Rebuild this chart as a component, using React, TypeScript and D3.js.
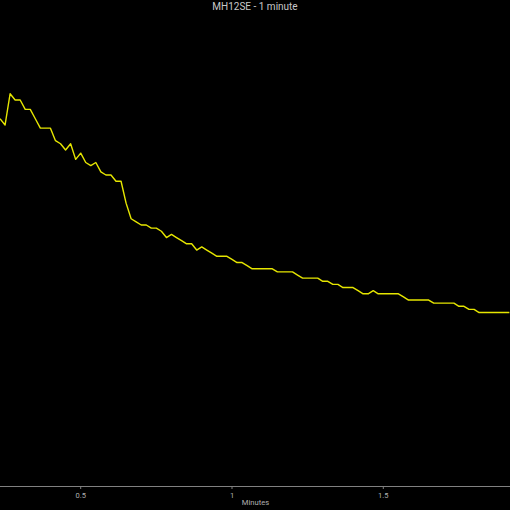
import React from "react";
import * as d3 from "d3";

const title = "MH12SE - 1 minute";
const xAxisLabel = "Minutes";
const xTicks = [0.5, 1, 1.5];
const sampleStartSec = 14;
const sampleIntervalSec = 1;
// readings (arbitrary units, 0.1 resolution)
const values = [
  26.2, 26.0, 27.0, 26.8, 26.8, 26.5, 26.5, 26.2, 25.9, 25.9,
  25.9, 25.5, 25.4, 25.2, 25.4, 24.9, 25.1, 24.8, 24.7, 24.8,
  24.5, 24.4, 24.4, 24.2, 24.2, 23.5, 23.0, 22.9, 22.8, 22.8,
  22.7, 22.7, 22.6, 22.4, 22.5, 22.4, 22.3, 22.2, 22.2, 22.0,
  22.1, 22.0, 21.9, 21.8, 21.8, 21.8, 21.7, 21.6, 21.6, 21.5,
  21.4, 21.4, 21.4, 21.4, 21.4, 21.3, 21.3, 21.3, 21.3, 21.2,
  21.1, 21.1, 21.1, 21.1, 21.0, 21.0, 20.9, 20.9, 20.8, 20.8,
  20.8, 20.7, 20.6, 20.6, 20.7, 20.6, 20.6, 20.6, 20.6, 20.6,
  20.5, 20.4, 20.4, 20.4, 20.4, 20.4, 20.3, 20.3, 20.3, 20.3,
  20.3, 20.2, 20.2, 20.1, 20.1, 20.0, 20.0, 20.0, 20.0, 20.0,
  20.0, 20.0,
];

const W = 510;
const H = 510;
const axisY = 486;

export default function App() {
  const x = d3.scaleLinear().domain([0.2333, 1.9187]).range([0, W]);
  const y = d3.scaleLinear().domain([14.45, 30]).range([axisY, 0]);
  const pts: [number, number][] = values.map((v, i) => [
    (sampleStartSec + i * sampleIntervalSec) / 60,
    v,
  ]);
  const line = d3
    .line<[number, number]>()
    .x((d) => x(d[0]))
    .y((d) => y(d[1]));

  return (
    <svg
      width={W}
      height={H}
      style={{ position: "fixed", left: 0, top: 0, background: "#000" }}
      fontFamily="Roboto, sans-serif"
    >
      <rect x={0} y={0} width={W} height={H} fill="#000" />
      <text x={255} y={10} textAnchor="middle" fontSize={10} fill="#c8c8c8">
        {title}
      </text>
      <defs>
        <clipPath id="plot">
          <rect x={0} y={0} width={W} height={axisY} />
        </clipPath>
      </defs>
      <path
        d={line(pts) || ""}
        fill="none"
        stroke="#e6e600"
        strokeWidth={1.4}
        strokeLinejoin="round"
        clipPath="url(#plot)"
      />
      <line x1={0} x2={W} y1={axisY + 0.5} y2={axisY + 0.5} stroke="#808080" strokeWidth={1} />
      {xTicks.map((t) => (
        <g key={t} transform={`translate(${x(t)},0)`}>
          <line x1={0} x2={0} y1={axisY} y2={axisY + 3} stroke="#808080" strokeWidth={1} />
          <text y={497.5} textAnchor="middle" fontSize={7.5} fill="#b0b0b0">
            {String(t)}
          </text>
        </g>
      ))}
      <text x={255.5} y={505} textAnchor="middle" fontSize={7.6} fill="#b0b0b0">
        {xAxisLabel}
      </text>
    </svg>
  );
}
